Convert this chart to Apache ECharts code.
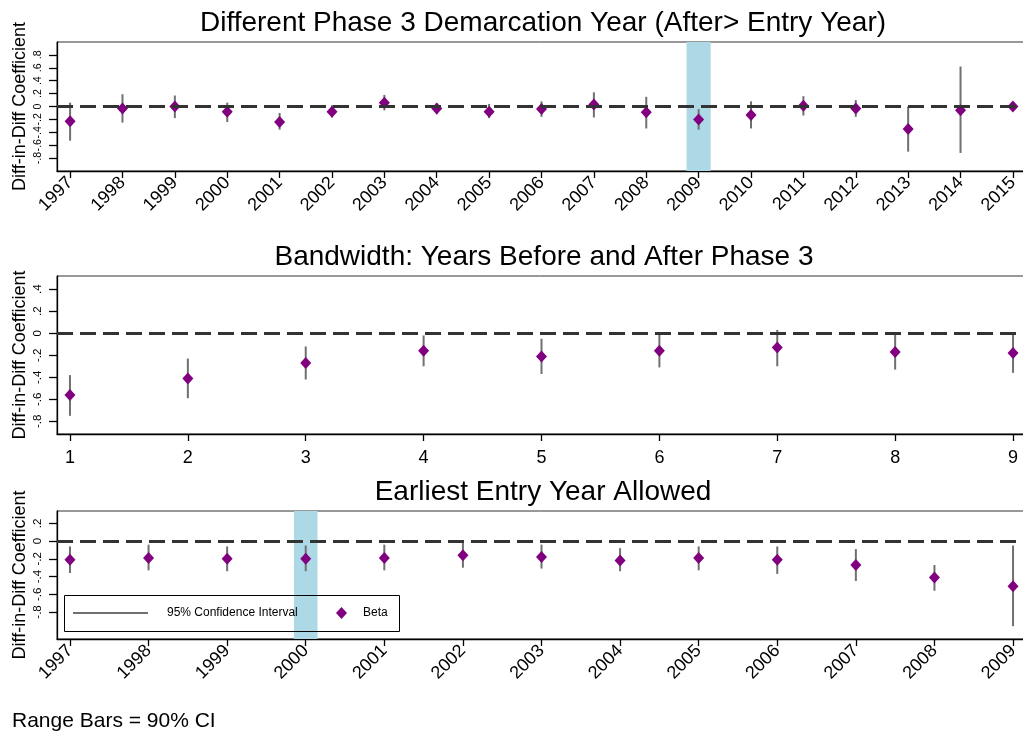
<!DOCTYPE html>
<html>
<head>
<meta charset="utf-8">
<script src="https://cdn.jsdelivr.net/npm/echarts@6/dist/echarts.min.js"></script>
<style>
  html, body { margin: 0; padding: 0; background: #fff; }
  #chart { width: 1023px; height: 735px; }
</style>
</head>
<body>
<div id="chart"></div>
<script>
const FONT = '"Liberation Sans", Arial, Helvetica, sans-serif';

// Panel 1: different Phase 3 demarcation year
const demarcationYears = [1997, 1998, 1999, 2000, 2001, 2002, 2003, 2004, 2005, 2006, 2007, 2008, 2009, 2010, 2011, 2012, 2013, 2014, 2015];
const demarcationBeta  = [-0.23, -0.03, 0.00, -0.08, -0.24, -0.08, 0.06, -0.03, -0.08, -0.04, 0.03, -0.09, -0.20, -0.13, 0.01, -0.03, -0.35, -0.06, 0.00];
const demarcationLow   = [-0.53, -0.25, -0.18, -0.24, -0.36, -0.17, -0.06, -0.12, -0.18, -0.16, -0.17, -0.34, -0.36, -0.34, -0.14, -0.16, -0.70, -0.72, -0.01];
const demarcationHigh  = [0.06, 0.19, 0.17, 0.06, -0.10, 0.02, 0.18, 0.05, 0.04, 0.08, 0.22, 0.15, -0.04, 0.08, 0.16, 0.10, 0.00, 0.62, 0.01];
const demarcationMarked = 2009;

// Panel 2: bandwidth in years before and after Phase 3
const bandwidths     = [1, 2, 3, 4, 5, 6, 7, 8, 9];
const bandwidthBeta  = [-0.56, -0.41, -0.27, -0.16, -0.21, -0.16, -0.13, -0.17, -0.18];
const bandwidthLow   = [-0.75, -0.59, -0.42, -0.30, -0.37, -0.31, -0.30, -0.33, -0.36];
const bandwidthHigh  = [-0.38, -0.23, -0.12, -0.02, -0.05, 0.00, 0.03, 0.00, 0.00];

// Panel 3: earliest entry year allowed
const entryYears = [1997, 1998, 1999, 2000, 2001, 2002, 2003, 2004, 2005, 2006, 2007, 2008, 2009];
const entryBeta  = [-0.21, -0.19, -0.20, -0.20, -0.19, -0.16, -0.18, -0.22, -0.19, -0.21, -0.27, -0.41, -0.51];
const entryLow   = [-0.36, -0.33, -0.34, -0.34, -0.33, -0.30, -0.31, -0.34, -0.33, -0.37, -0.45, -0.56, -0.96];
const entryHigh  = [-0.06, -0.04, -0.06, -0.05, -0.04, -0.01, -0.04, -0.08, -0.06, -0.06, -0.09, -0.27, -0.05];
const entryMarked = 2000;

const panelTitles = [
  'Different Phase 3 Demarcation Year (After> Entry Year)',
  'Bandwidth: Years Before and After Phase 3',
  'Earliest Entry Year Allowed'
];
const yTickValues = [
  [-0.8, -0.6, -0.4, -0.2, 0, 0.2, 0.4, 0.6, 0.8],
  [-0.8, -0.6, -0.4, -0.2, 0, 0.2, 0.4],
  [-0.8, -0.6, -0.4, -0.2, 0, 0.2]
];
const yAxisTitle = 'Diff-in-Diff Coefficient';
const ciLabel = '95% Confidence Interval';
const betaLabel = 'Beta';
const footnote = 'Range Bars = 90% CI';

// ---- layout and styling ----
const PLOT_LEFT = 57;
const PLOT_RIGHT = -3;
const grids = [
  { top: 42, height: 129 },
  { top: 276, height: 158 },
  { top: 511, height: 128 }
];
const xRanges = [
  [1996.75, 2015.25],
  [0.89, 9.11],
  [1996.835, 2009.165]
];
const yRanges = [
  [-1.0, 1.0],
  [-0.915, 0.52],
  [-1.105, 0.34]
];
const yLabelSize = [10.6, 11.5, 11.5];
const bandHalf = [0.23, 0.15];

const PURPLE = '#800080';
const CI_GREY = '#707070';
const BAND = '#add8e6';

function fmtY(v) {
  if (Math.abs(v) < 1e-9) return '0';
  const s = Math.abs(v).toFixed(1).replace(/^0/, '');
  return (v < 0 ? '-' : '') + s;
}

function ciRender(params, api) {
  const x = api.value(0);
  const p1 = api.coord([x, api.value(1)]);
  const p2 = api.coord([x, api.value(2)]);
  return {
    type: 'line',
    shape: { x1: p1[0], y1: p1[1], x2: p2[0], y2: p2[1] },
    style: { stroke: CI_GREY, lineWidth: 2 }
  };
}

const panels = [
  { xs: demarcationYears, beta: demarcationBeta, lo: demarcationLow, hi: demarcationHigh, marked: demarcationMarked, rotate: 45 },
  { xs: bandwidths, beta: bandwidthBeta, lo: bandwidthLow, hi: bandwidthHigh, marked: null, rotate: 0 },
  { xs: entryYears, beta: entryBeta, lo: entryLow, hi: entryHigh, marked: entryMarked, rotate: 45 }
];

const gridOpt = [], xAxisOpt = [], yAxisOpt = [], seriesOpt = [];

panels.forEach((p, i) => {
  gridOpt.push({
    left: PLOT_LEFT, right: PLOT_RIGHT, top: grids[i].top, height: grids[i].height,
    outerBoundsMode: 'none', containLabel: false,
    show: true, borderColor: '#333', borderWidth: 1, backgroundColor: 'transparent'
  });
  xAxisOpt.push({
    type: 'value', gridIndex: i, min: xRanges[i][0], max: xRanges[i][1],
    axisLine: { show: true, onZero: false, lineStyle: { color: '#000', width: 1.3 } },
    axisTick: { show: true, length: 7, customValues: p.xs, lineStyle: { color: '#000', width: 1.3 } },
    axisLabel: {
      customValues: p.xs, rotate: p.rotate, fontSize: 18, fontFamily: FONT, color: '#000',
      margin: p.rotate ? 9 : 15, hideOverlap: false, showMinLabel: true, showMaxLabel: true,
      formatter: v => String(v)
    },
    splitLine: { show: false }
  });
  yAxisOpt.push({
    type: 'value', gridIndex: i, min: yRanges[i][0], max: yRanges[i][1],
    axisLine: { show: true, lineStyle: { color: '#000', width: 1.3 } },
    axisTick: { show: true, length: 8, customValues: yTickValues[i], lineStyle: { color: '#000', width: 1.3 } },
    axisLabel: {
      customValues: yTickValues[i], rotate: 90, fontSize: yLabelSize[i], fontFamily: FONT, color: '#000',
      margin: 13, hideOverlap: false, showMinLabel: true, showMaxLabel: true, formatter: fmtY
    },
    splitLine: { show: false },
    name: yAxisTitle, nameLocation: 'middle', nameGap: 28, nameMoveOverlap: false,
    nameTextStyle: { fontSize: 18, fontFamily: FONT, color: '#000' }
  });

  // highlighted year column
  if (p.marked !== null) {
    const h = bandHalf[i === 0 ? 0 : 1];
    seriesOpt.push({
      type: 'scatter', xAxisIndex: i, yAxisIndex: i, data: [], z: 1, silent: true,
      markArea: {
        silent: true, itemStyle: { color: BAND, opacity: 1 },
        data: [[{ xAxis: p.marked - h }, { xAxis: p.marked + h }]]
      }
    });
  }
  // reference line at zero
  seriesOpt.push({
    type: 'scatter', xAxisIndex: i, yAxisIndex: i, data: [], z: 2, silent: true,
    markLine: {
      silent: true, symbol: 'none', label: { show: false },
      lineStyle: { color: '#333', width: 3, type: [16, 7] },
      data: [{ yAxis: 0 }]
    }
  });
  // confidence interval bars
  seriesOpt.push({
    name: ciLabel, type: 'custom', xAxisIndex: i, yAxisIndex: i, z: 3,
    itemStyle: { color: CI_GREY },
    renderItem: ciRender,
    encode: { x: 0, y: [1, 2] },
    data: p.xs.map((x, k) => [x, p.lo[k], p.hi[k]])
  });
  // point estimates
  seriesOpt.push({
    name: betaLabel, type: 'scatter', xAxisIndex: i, yAxisIndex: i, z: 4,
    symbol: 'diamond', symbolSize: [11, 12],
    itemStyle: { color: PURPLE, opacity: 1 },
    data: p.xs.map((x, k) => [x, p.beta[k]])
  });
});

const titleCenters = [543, 544, 543];
const titleY = [23, 257, 492];

const graphics = panelTitles.map((t, i) => ({
  type: 'text', x: titleCenters[i], y: titleY[i], silent: true,
  style: { text: t, fontSize: 28, fontFamily: FONT, fill: '#000', textAlign: 'center', textVerticalAlign: 'middle' }
}));
graphics.push({
  type: 'rect', silent: true, z: 10,
  shape: { x: 64.5, y: 595.5, width: 335, height: 36 },
  style: { fill: 'none', stroke: '#000', lineWidth: 1 }
});
graphics.push({
  type: 'text', x: 12, y: 721, silent: true,
  style: { text: footnote, fontSize: 21, fontFamily: FONT, fill: '#000', textAlign: 'left', textVerticalAlign: 'middle' }
});

const option = {
  animation: false,
  backgroundColor: '#fff',
  grid: gridOpt,
  xAxis: xAxisOpt,
  yAxis: yAxisOpt,
  legend: [
    {
      data: [{ name: ciLabel, icon: 'rect' }],
      left: 73, top: 607, padding: 0, itemWidth: 75, itemHeight: 2,
      selectedMode: false,
      textStyle: { fontSize: 12, fontFamily: FONT, color: '#000', padding: [0, 0, 0, 14] }
    },
    {
      data: [{ name: betaLabel, icon: 'diamond' }],
      left: 336, top: 607, padding: 0, itemWidth: 11, itemHeight: 12,
      selectedMode: false,
      textStyle: { fontSize: 12, fontFamily: FONT, color: '#000', padding: [0, 0, 0, 11] }
    }
  ],
  graphic: graphics,
  series: seriesOpt
};

const chart = echarts.init(document.getElementById('chart'), null, { renderer: 'canvas' });
chart.setOption(option);
</script>
</body>
</html>
